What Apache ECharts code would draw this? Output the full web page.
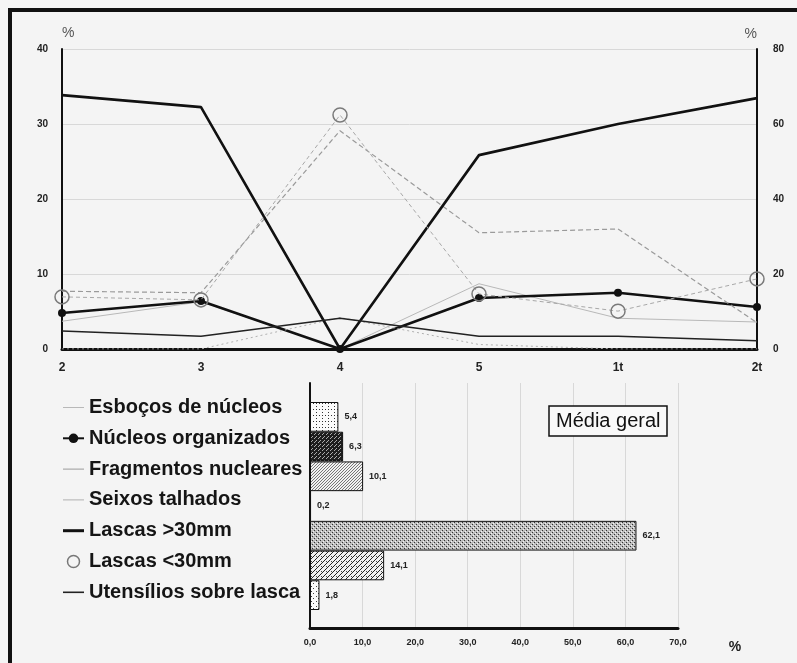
<!DOCTYPE html>
<html>
<head>
<meta charset="utf-8">
<script src="https://cdn.jsdelivr.net/npm/echarts@6.0.0/dist/echarts.min.js"></script>
<style>
html,body{margin:0;padding:0;background:#f4f4f4;}
#chart{width:797px;height:663px;}
</style>
</head>
<body>
<div id="chart"></div>
<script>
// ---- data ----
const categories = ['2', '3', '4', '5', '1t', '2t'];
const seriesNames = ['Esboços de núcleos', 'Núcleos organizados', 'Fragmentos nucleares', 'Seixos talhados', 'Lascas >30mm', 'Lascas <30mm', 'Utensílios sobre lasca'];
const esbocos = [3.7, 6.3, 0, 8.7, 4.1, 3.6];
const nucleosOrganizados = [4.8, 6.4, 0, 6.8, 7.5, 5.6];
const fragmentosNucleares = [7.7, 7.5, 29.1, 15.5, 16.0, 3.5];
const seixosTalhados = [0, 0, 4.2, 0.6, 0, 0];
const lascasMaior30 = [67.7, 64.5, 0, 51.7, 60.0, 66.9];   // right axis (0-80)
const lascasMenor30 = [13.9, 13.1, 62.4, 14.7, 10.1, 18.7]; // right axis (0-80)
const utensilios = [2.4, 1.7, 4.1, 1.7, 1.7, 1.1];
const mediaGeral = [5.4, 6.3, 10.1, 0.2, 62.1, 14.1, 1.8];
const leftTicks = {min: 0, max: 40, interval: 10};
const rightTicks = {min: 0, max: 80, interval: 20};
const barTicks = {min: 0, max: 70, interval: 10};

// ---- patterns ----
function makePattern(size, bg, draw) {
  const c = document.createElement('canvas');
  c.width = size; c.height = size;
  const ctx = c.getContext('2d');
  ctx.fillStyle = bg; ctx.fillRect(0, 0, size, size);
  draw(ctx);
  return {image: c, repeat: 'repeat'};
}
function dots(pts, col) {
  return function (ctx) { ctx.fillStyle = col; pts.forEach(p => ctx.fillRect(p[0], p[1], 1, 1)); };
}
const patterns = [
  makePattern(6, '#fbfbfb', dots([[1,1],[4,4],[4,1]], '#333')),
  makePattern(4, '#1e1e1e', dots([[0,0],[2,2],[3,1]], '#aaa')),
  makePattern(3, '#f2f2f2', dots([[0,0],[1,2],[2,1]], '#777')),
  makePattern(4, '#ffffff', dots([[1,1]], '#555')),
  makePattern(4, '#bdbdbd', function (ctx) { dots([[0,0],[2,2]], '#333')(ctx); dots([[1,3],[3,1]], '#f4f4f4')(ctx); }),
  makePattern(5, '#f0f0f0', function (ctx) { ctx.strokeStyle = '#222'; ctx.lineWidth = 1; ctx.beginPath(); ctx.moveTo(0, 5); ctx.lineTo(5, 0); ctx.stroke(); dots([[1,1]], '#444')(ctx); }),
  makePattern(5, '#fbfbfb', dots([[1,1],[3,3]], '#444'))
];

const thinIcon = 'path://M0,0 L21,0 L21,1 L0,1 Z';
const midIcon = 'path://M0,0 L21,0 L21,1.6 L0,1.6 Z';
const thickIcon = 'path://M0,0 L21,0 L21,3 L0,3 Z';

const lineDefs = [
  {data: esbocos, y: 0, line: {color: '#b8b8b8', width: 1, type: 'solid'}, symbol: 'none', icon: thinIcon},
  {data: nucleosOrganizados, y: 0, line: {color: '#111', width: 2.6, type: 'solid'}, symbol: 'circle', size: 8, item: {color: '#111'}, icon: null},
  {data: fragmentosNucleares, y: 0, line: {color: '#9a9a9a', width: 1.2, type: [5, 3]}, symbol: 'none', icon: thinIcon},
  {data: seixosTalhados, y: 0, line: {color: '#b0b0b0', width: 1, type: [2, 3]}, symbol: 'none', icon: thinIcon},
  {data: lascasMaior30, y: 1, line: {color: '#111', width: 2.6, type: 'solid'}, symbol: 'none', icon: thickIcon},
  {data: lascasMenor30, y: 1, line: {color: '#a8a8a8', width: 1, type: [4, 3]}, symbol: 'circle', size: 14, item: {color: 'rgba(0,0,0,0)', borderColor: '#7a7a7a', borderWidth: 1.5}, icon: 'circle'},
  {data: utensilios, y: 0, line: {color: '#222', width: 1.6, type: 'solid'}, symbol: 'none', icon: midIcon}
];

const lineSeries = lineDefs.map((d, i) => {
  const s = {
    name: seriesNames[i], type: 'line', xAxisIndex: 0, yAxisIndex: d.y,
    data: d.data, symbol: d.symbol, symbolSize: d.size || 0, showSymbol: d.symbol !== 'none',
    lineStyle: d.line, z: i === 5 ? 4 : 3
  };
  s.itemStyle = d.item ? d.item : {color: d.line.color};
  return s;
});

const legendData = seriesNames.map((n, i) => {
  const d = lineDefs[i];
  const o = {name: n};
  if (d.icon) o.icon = d.icon;
  if (i === 5) o.itemStyle = {color: 'rgba(0,0,0,0)', borderColor: '#777', borderWidth: 1.5};
  return o;
});

const fmt = v => Number(v).toFixed(1).replace('.', ',');

const barSeries = {
  type: 'bar', xAxisIndex: 2, yAxisIndex: 3, barCategoryGap: 0,
  data: mediaGeral.map((v, i) => ({value: v, itemStyle: {color: patterns[i], borderColor: '#111', borderWidth: 1}})),
  label: {show: true, position: 'right', distance: 6, formatter: p => fmt(p.value), fontSize: 9, fontWeight: 'bold', color: '#222'},
  z: 5
};

const boldLbl = {fontWeight: 'bold', color: '#222', fontFamily: 'Liberation Sans, Arial'};

const option = {
  backgroundColor: '#f4f4f4',
  animation: false,
  textStyle: {fontFamily: 'Liberation Sans, Arial'},
  title: {
    text: 'Média geral', left: 549, top: 406,
    borderColor: '#111', borderWidth: 1.5, padding: [4, 7], backgroundColor: '#f9f9f9',
    textStyle: {fontSize: 20, fontWeight: 'normal', color: '#111', lineHeight: 22, fontFamily: 'Liberation Sans, Arial'}
  },
  legend: {
    orient: 'vertical', left: 57, top: 392,
    itemWidth: 21, itemHeight: 12, itemGap: 9.8,
    data: legendData,
    textStyle: {fontSize: 20, fontWeight: 'bold', color: '#151515', lineHeight: 21, fontFamily: 'Liberation Sans, Arial'},
    selectedMode: false
  },
  grid: [
    {left: 62, right: 40, top: 49, height: 300},
    {left: 310, right: 119, top: 383, height: 245},
    {left: 310, right: 119, top: 402, height: 208}
  ],
  xAxis: [
    {gridIndex: 0, type: 'category', data: categories, boundaryGap: false,
     axisLine: {lineStyle: {color: '#111', width: 3}}, axisTick: {show: false},
     axisLabel: Object.assign({fontSize: 12, margin: 13}, boldLbl), splitLine: {show: false}},
    {gridIndex: 1, type: 'value', min: barTicks.min, max: barTicks.max, interval: barTicks.interval,
     axisLine: {show: true, lineStyle: {color: '#111', width: 3}}, axisTick: {show: false},
     splitLine: {show: true, lineStyle: {color: '#d8d8d8', width: 1}},
     axisLabel: Object.assign({fontSize: 9, margin: 10, formatter: v => fmt(v)}, boldLbl),
     name: '%', nameLocation: 'end', nameGap: 57,
     nameTextStyle: {fontSize: 14, fontWeight: 'bold', color: '#222', align: 'center', verticalAlign: 'top', padding: [12, 0, 0, 0]}},
    {gridIndex: 2, type: 'value', min: barTicks.min, max: barTicks.max, show: false}
  ],
  yAxis: [
    {gridIndex: 0, type: 'value', position: 'left', min: leftTicks.min, max: leftTicks.max, interval: leftTicks.interval,
     axisLine: {show: true, lineStyle: {color: '#111', width: 2}}, axisTick: {show: false},
     splitLine: {show: true, lineStyle: {color: '#d8d8d8', width: 1}},
     axisLabel: Object.assign({fontSize: 10, margin: 14}, boldLbl),
     name: '%', nameLocation: 'end', nameGap: 9,
     nameTextStyle: {fontSize: 14, color: '#555', align: 'left'}},
    {gridIndex: 0, type: 'value', position: 'right', min: rightTicks.min, max: rightTicks.max, interval: rightTicks.interval,
     axisLine: {show: true, lineStyle: {color: '#111', width: 2}}, axisTick: {show: false},
     splitLine: {show: false},
     axisLabel: Object.assign({fontSize: 10, margin: 16}, boldLbl),
     name: '%', nameLocation: 'end', nameGap: 8,
     nameTextStyle: {fontSize: 14, color: '#555', align: 'right'}},
    {gridIndex: 1, type: 'value', min: 0, max: 1,
     axisLine: {show: true, lineStyle: {color: '#111', width: 2}}, axisTick: {show: false},
     axisLabel: {show: false}, splitLine: {show: false}},
    {gridIndex: 2, type: 'category', data: seriesNames, inverse: true, show: false}
  ],
  series: lineSeries.concat([barSeries]),
  graphic: [
    {type: 'rect', shape: {x: 10, y: 10, width: 900, height: 800}, style: {fill: 'none', stroke: '#111', lineWidth: 4}, z: 100}
  ]
};

const chart = echarts.init(document.getElementById('chart'), null, {renderer: 'canvas'});
chart.setOption(option);
</script>
</body>
</html>
